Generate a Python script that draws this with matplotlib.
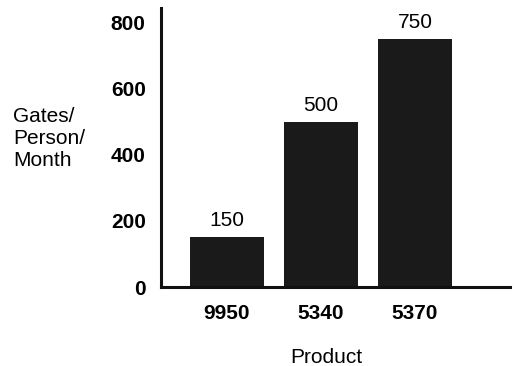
import matplotlib.pyplot as plt

# product data
products = ['9950', '5340', '5370']
gates = [150, 500, 750]
yticks = [0, 200, 400, 600, 800]

plt.rcParams['font.family'] = ['Liberation Sans', 'DejaVu Sans']

fig = plt.figure(figsize=(5.15, 3.66), dpi=100)
ax = fig.add_axes([0.3126, 0.2158, 0.6774, 0.7622])

x = range(len(products))
bars = ax.bar(x, gates, width=0.79, color='#1a1a1a')
for b, v in zip(bars, gates):
    ax.annotate(str(v), (b.get_x() + b.get_width() / 2, b.get_height()),
                xytext=(0, 5), textcoords='offset points',
                ha='center', va='bottom', fontsize=15)

ax.set_xlim(-0.70, 3.01)
ax.set_ylim(0, 843)
ax.set_xticks(list(x))
ax.set_xticklabels(products, fontsize=15, fontweight='bold')
ax.set_yticks(yticks)
ax.set_yticklabels([str(t) for t in yticks], fontsize=15, fontweight='bold')
ax.tick_params(length=0)
ax.tick_params(axis='y', pad=11)
ax.tick_params(axis='x', pad=12)

for s in ['top', 'right']:
    ax.spines[s].set_visible(False)
for s in ['left', 'bottom']:
    ax.spines[s].set_linewidth(2.2)
    ax.spines[s].set_color('#111111')

fig.text(0.025, 0.622, 'Gates/\nPerson/\nMonth', ha='left', va='center',
         fontsize=15, linespacing=1.22)
fig.text(0.633, 0.022, 'Product', ha='center', va='center', fontsize=15)

fig.savefig('out.png', dpi=100)
